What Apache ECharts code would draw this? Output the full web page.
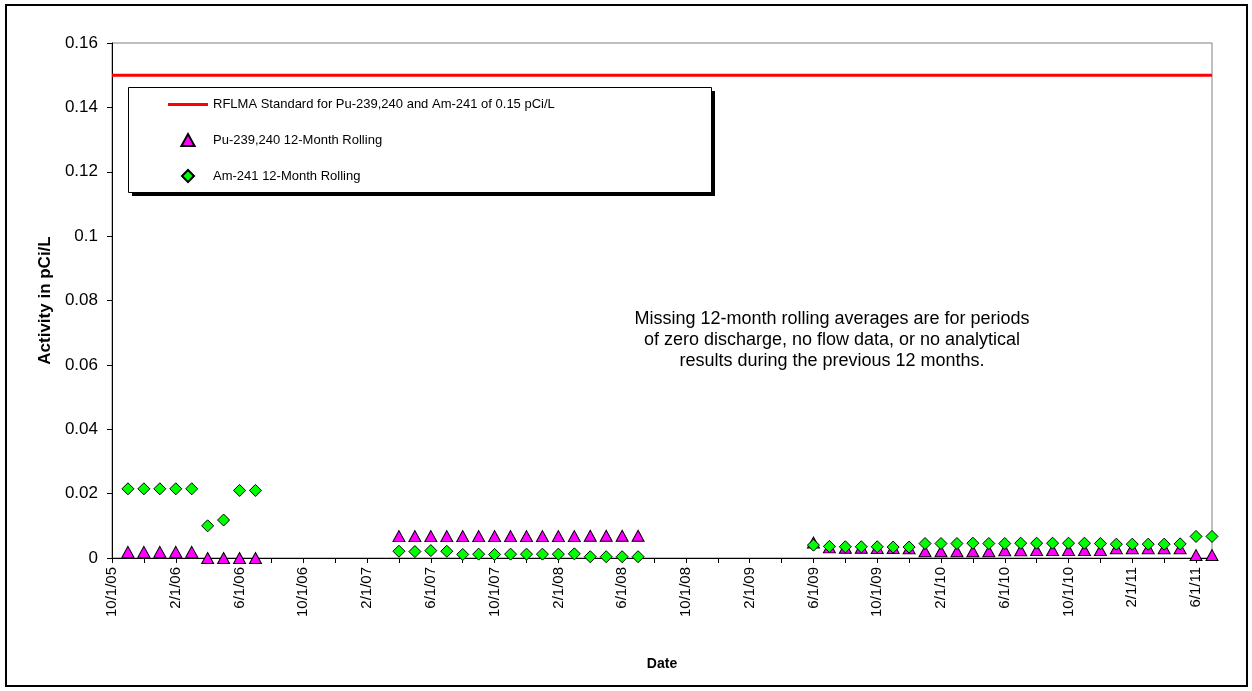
<!DOCTYPE html>
<html><head><meta charset="utf-8">
<script src="https://cdn.jsdelivr.net/npm/echarts@6/dist/echarts.min.js"></script>
<style>html,body{margin:0;padding:0;background:#fff}#c{width:1252px;height:691px}</style>
</head><body><div id="c"></div>
<script>
// ---- data ----
const axisStart = '10/1/05';
const axisEnd = '7/1/11';
const xTickLabels = ['10/1/05','2/1/06','6/1/06','10/1/06','2/1/07','6/1/07','10/1/07','2/1/08','6/1/08','10/1/08','2/1/09','6/1/09','10/1/09','2/1/10','6/1/10','10/1/10','2/1/11','6/1/11'];
const yTickValues = [0,0.02,0.04,0.06,0.08,0.1,0.12,0.14,0.16];
const dates = [
 '11/1/05','12/1/05','1/1/06','2/1/06','3/1/06','4/1/06','5/1/06','6/1/06','7/1/06',
 '4/1/07','5/1/07','6/1/07','7/1/07','8/1/07','9/1/07','10/1/07','11/1/07','12/1/07','1/1/08','2/1/08','3/1/08','4/1/08','5/1/08','6/1/08','7/1/08',
 '6/1/09','7/1/09','8/1/09','9/1/09','10/1/09','11/1/09','12/1/09','1/1/10','2/1/10','3/1/10','4/1/10','5/1/10','6/1/10','7/1/10','8/1/10','9/1/10','10/1/10','11/1/10','12/1/10','1/1/11','2/1/11','3/1/11','4/1/11','5/1/11','6/1/11','7/1/11'
];
const puRolling = [
 0.0019,0.0019,0.0019,0.0019,0.0019,0.0000,0.0000,0.0000,0.0000,
 0.0068,0.0068,0.0068,0.0068,0.0068,0.0068,0.0068,0.0068,0.0068,0.0068,0.0068,0.0068,0.0069,0.0069,0.0069,0.0069,
 0.0048,0.0033,0.0032,0.0032,0.0031,0.0031,0.0030,0.0021,0.0021,0.0021,0.0021,0.0021,0.0024,0.0024,0.0025,0.0025,0.0025,0.0025,0.0025,0.0030,0.0030,0.0030,0.0030,0.0030,0.0009,0.0009
];
const amRolling = [
 0.0215,0.0215,0.0215,0.0215,0.0215,0.0100,0.0118,0.0210,0.0210,
 0.0021,0.0020,0.0023,0.0021,0.0011,0.0012,0.0011,0.0012,0.0012,0.0012,0.0012,0.0013,0.0004,0.0004,0.0004,0.0004,
 0.0040,0.0036,0.0035,0.0035,0.0035,0.0034,0.0034,0.0045,0.0045,0.0045,0.0046,0.0045,0.0045,0.0046,0.0046,0.0046,0.0046,0.0046,0.0045,0.0043,0.0043,0.0043,0.0043,0.0044,0.0067,0.0067
];
const standardValue = 0.15;
const seriesNames = ['RFLMA Standard for Pu-239,240 and Am-241 of 0.15 pCi/L','Pu-239,240 12-Month Rolling','Am-241 12-Month Rolling'];
const noteLines = ['Missing 12-month rolling averages are for periods','of zero discharge, no flow data, or no analytical','results during the previous 12 months.'];

// ---- helpers ----
function monthIdx(s){const p=s.split('/');const m=+p[0],y=2000+(+p[2]);const b=axisStart.split('/');return (y*12+m-1)-((2000+(+b[2]))*12+(+b[0])-1);}
const xMax = monthIdx(axisEnd);
const puData = dates.map((d,i)=>[monthIdx(d),puRolling[i]]);
const amData = dates.map((d,i)=>[monthIdx(d),amRolling[i]]);
const stdData = [[0,standardValue],[xMax,standardValue]];

const FONT = 'Liberation Sans, Arial, sans-serif';
const chart = echarts.init(document.getElementById('c'),null,{renderer:'canvas'});
chart.setOption({
  animation:false,
  backgroundColor:'#fff',
  grid:{left:112,right:40,top:43,bottom:133,show:true,borderColor:'#808080',borderWidth:1,backgroundColor:'transparent'},
  xAxis:{type:'value',min:0,max:xMax,interval:2,
    name:'Date',nameLocation:'middle',nameGap:99,
    nameTextStyle:{fontFamily:FONT,fontWeight:'bold',fontSize:14,color:'#000'},
    axisLine:{show:true,onZero:false,lineStyle:{color:'#000',width:1}},
    axisTick:{show:true,inside:false,length:5,lineStyle:{color:'#000'}},
    splitLine:{show:false},
    axisLabel:{rotate:90,margin:9,fontFamily:FONT,fontSize:15,color:'#000',showMaxLabel:false,
      formatter:v=>(v%4===0 && xTickLabels[v/4]!==undefined)?xTickLabels[v/4]:''}
  },
  yAxis:{type:'value',min:0,max:0.16,interval:0.02,
    name:'Activity in pCi/L',nameLocation:'middle',nameGap:58,
    nameTextStyle:{fontFamily:FONT,fontWeight:'bold',fontSize:17,color:'#000'},
    axisLine:{show:true,lineStyle:{color:'#000',width:1}},
    axisTick:{show:true,inside:false,length:5,lineStyle:{color:'#000'}},
    splitLine:{show:false},
    axisLabel:{margin:14,fontFamily:FONT,fontSize:17,color:'#000',
      formatter:v=>{const t=yTickValues.find(x=>Math.abs(x-v)<1e-9);return String(+((t!==undefined?t:v).toFixed(2)));}}
  },
  legend:{orient:'vertical',left:168,top:98,z:20,
    padding:0,itemGap:22,itemWidth:40,itemHeight:12,
    textStyle:{fontFamily:FONT,fontSize:13,color:'#000'},
    data:[
      {name:seriesNames[0],icon:'path://M0,0L40,0L40,3L0,3Z'},
      {name:seriesNames[1],icon:'path://M0,10L5.5,0L11,10Z'},
      {name:seriesNames[2],icon:'path://M6,0L12,6L6,12L0,6Z'}
    ]},
  graphic:[
    {type:'rect',shape:{x:6,y:5,width:1241,height:681},style:{fill:'none',stroke:'#000',lineWidth:2},silent:true,z:0},
    {type:'rect',shape:{x:132,y:91,width:583,height:105},style:{fill:'#000'},silent:true,z:1},
    {type:'rect',shape:{x:128.5,y:87.5,width:583,height:105},style:{fill:'#fff',stroke:'#000',lineWidth:1},silent:true,z:2},
    {type:'text',x:832,y:309,style:{text:noteLines.join('\n'),font:'18px '+FONT,fill:'#000',textAlign:'center',lineHeight:21},z:10,silent:true}
  ],
  series:[
    {name:seriesNames[0],type:'line',data:stdData,symbol:'none',lineStyle:{color:'#ff0000',width:3},itemStyle:{color:'#ff0000'},z:3},
    {name:seriesNames[1],type:'scatter',data:puData,symbol:'triangle',symbolSize:[12,11],
      itemStyle:{color:'#ff00ff',borderColor:'#000',borderWidth:1,opacity:1},z:4},
    {name:seriesNames[2],type:'scatter',data:amData,symbol:'diamond',symbolSize:12,
      itemStyle:{color:'#00ff00',borderColor:'#000',borderWidth:1,opacity:1},z:5}
  ]
});
</script></body></html>
